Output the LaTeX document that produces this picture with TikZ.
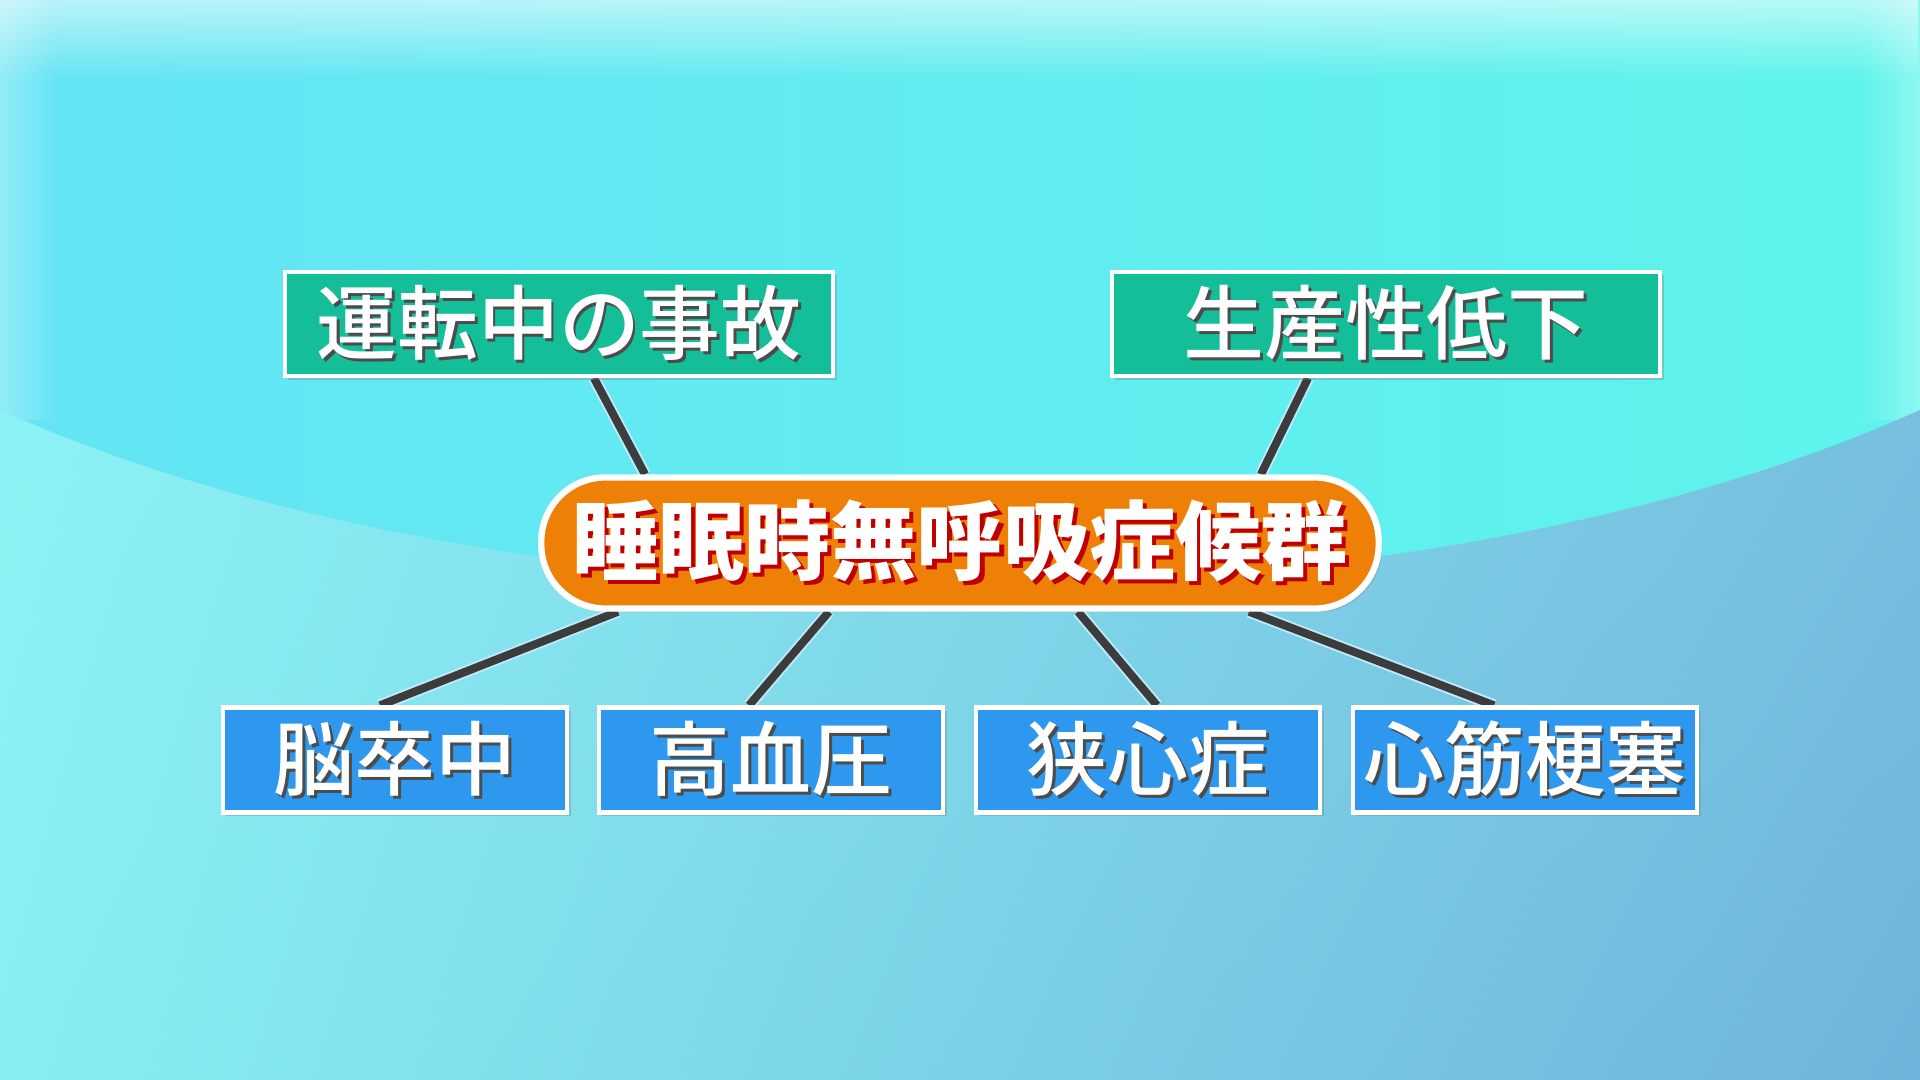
\documentclass[tikz,border=0pt]{standalone}
\usepackage{fontspec}
\newfontfamily\jpfont{Noto Sans CJK JP Medium}
\newfontfamily\jpblack{Noto Sans CJK JP Black}
\usepackage{tikz}
\usetikzlibrary{calc,positioning,shadows,fadings,shadings}

\definecolor{boxgreen}{HTML}{14BE98}
\definecolor{boxblue}{HTML}{2E97EE}
\definecolor{pillorange}{HTML}{EE8008}
\definecolor{linkgray}{HTML}{3C3C3C}
\definecolor{lowUL}{HTML}{8EF6F7}
\definecolor{lowUR}{HTML}{7CC6E2}
\definecolor{lowLL}{HTML}{88EEF2}
\definecolor{lowLR}{HTML}{6EB4DA}
\definecolor{topL}{HTML}{64E4F4}
\definecolor{topR}{HTML}{5EF4EC}

% white text with a shifted shadow copy behind it
\newcommand\shtext[3]{\makebox[0pt][l]{\hspace{#2}\raisebox{-#2}{\color{#1}#3}}#3}

\tikzfading[name=fade down, top color=transparent!0, bottom color=transparent!100]
\tikzfading[name=fade right, left color=transparent!0, right color=transparent!100]
\tikzfading[name=fade left, left color=transparent!100, right color=transparent!0]

\pgfdeclarelayer{bg}
\pgfdeclarelayer{links}
\pgfsetlayers{bg,links,main}

\begin{document}
\begin{tikzpicture}[x=0.01cm, y=-0.01cm,
    item/.style={draw=white, line width=1.2pt, text=white, inner sep=0pt,
      font=\jpfont\fontsize{23pt}{23pt}\selectfont,
      drop shadow={shadow xshift=1pt, shadow yshift=-1pt, opacity=0.35}},
    effect/.style={item, fill=boxgreen, minimum width=5.48cm, minimum height=1.04cm},
    illness/.style={item, fill=boxblue, minimum width=3.44cm, minimum height=1.05cm},
    pill/.style={draw=white, line width=1.8pt, fill=pillorange, text=white,
      rounded corners=0.64cm, minimum width=8.37cm, minimum height=1.31cm,
      font=\jpblack\fontsize{24.5pt}{24.5pt}\selectfont,
      drop shadow={shadow xshift=1pt, shadow yshift=-1pt, opacity=0.25}},
    link/.style={draw=white!75!cyan, line width=0.55pt, double=linkgray, double distance=2.3pt}]
  \useasboundingbox (0,0) rectangle (1920,1080);

  % background
  \begin{pgfonlayer}{bg}
    \shade[upper left=lowUL, upper right=lowUR, lower left=lowLL, lower right=lowLR]
      (0,0) rectangle (1920,1080);
    \begin{scope}
      \clip (960,47) ellipse [x radius=1300, y radius=538];
      \shade[left color=topL, right color=topR] (0,0) rectangle (1920,620);
      \fill[white, opacity=0.55, path fading=fade down] (0,0) rectangle (1920,80);
      \fill[white, opacity=0.3, path fading=fade right] (0,0) rectangle (60,420);
      \fill[white, opacity=0.3, path fading=fade left] (1860,0) rectangle (1920,420);
    \end{scope}
  \end{pgfonlayer}

  \node[effect] (accident) at (559,324) {\shtext{black!70}{0.8pt}{運転中の事故}};
  \node[effect] (productivity) at (1386,324) {\shtext{black!70}{0.8pt}{生産性低下}};
  \node[pill] (sas) at (960,543) {\shtext{red!75!black}{1.2pt}{睡眠時無呼吸症候群}};
  \node[illness] (stroke) at (395,760) {\shtext{black!70}{0.8pt}{脳卒中}};
  \node[illness] (hypertension) at (771,760) {\shtext{black!70}{0.8pt}{高血圧}};
  \node[illness] (angina) at (1148,760) {\shtext{black!70}{0.8pt}{狭心症}};
  \node[illness] (infarction) at (1525,760) {\shtext{black!70}{0.8pt}{心筋梗塞}};

  \begin{pgfonlayer}{links}
    \draw[link] ($(accident.south)+(35,0)$) -- ($(sas.north)+(-315,0)$);
    \draw[link] ($(productivity.south)+(-78,0)$) -- ($(sas.north)+(301,0)$);
    \draw[link] ($(sas.south)+(-342,0)$) -- ($(stroke.north)+(-15,0)$);
    \draw[link] ($(sas.south)+(-131,0)$) -- ($(hypertension.north)+(-22,0)$);
    \draw[link] ($(sas.south)+(118,0)$) -- ($(angina.north)+(9,0)$);
    \draw[link] ($(sas.south)+(289,0)$) -- ($(infarction.north)+(-31,0)$);
  \end{pgfonlayer}
\end{tikzpicture}
\end{document}
